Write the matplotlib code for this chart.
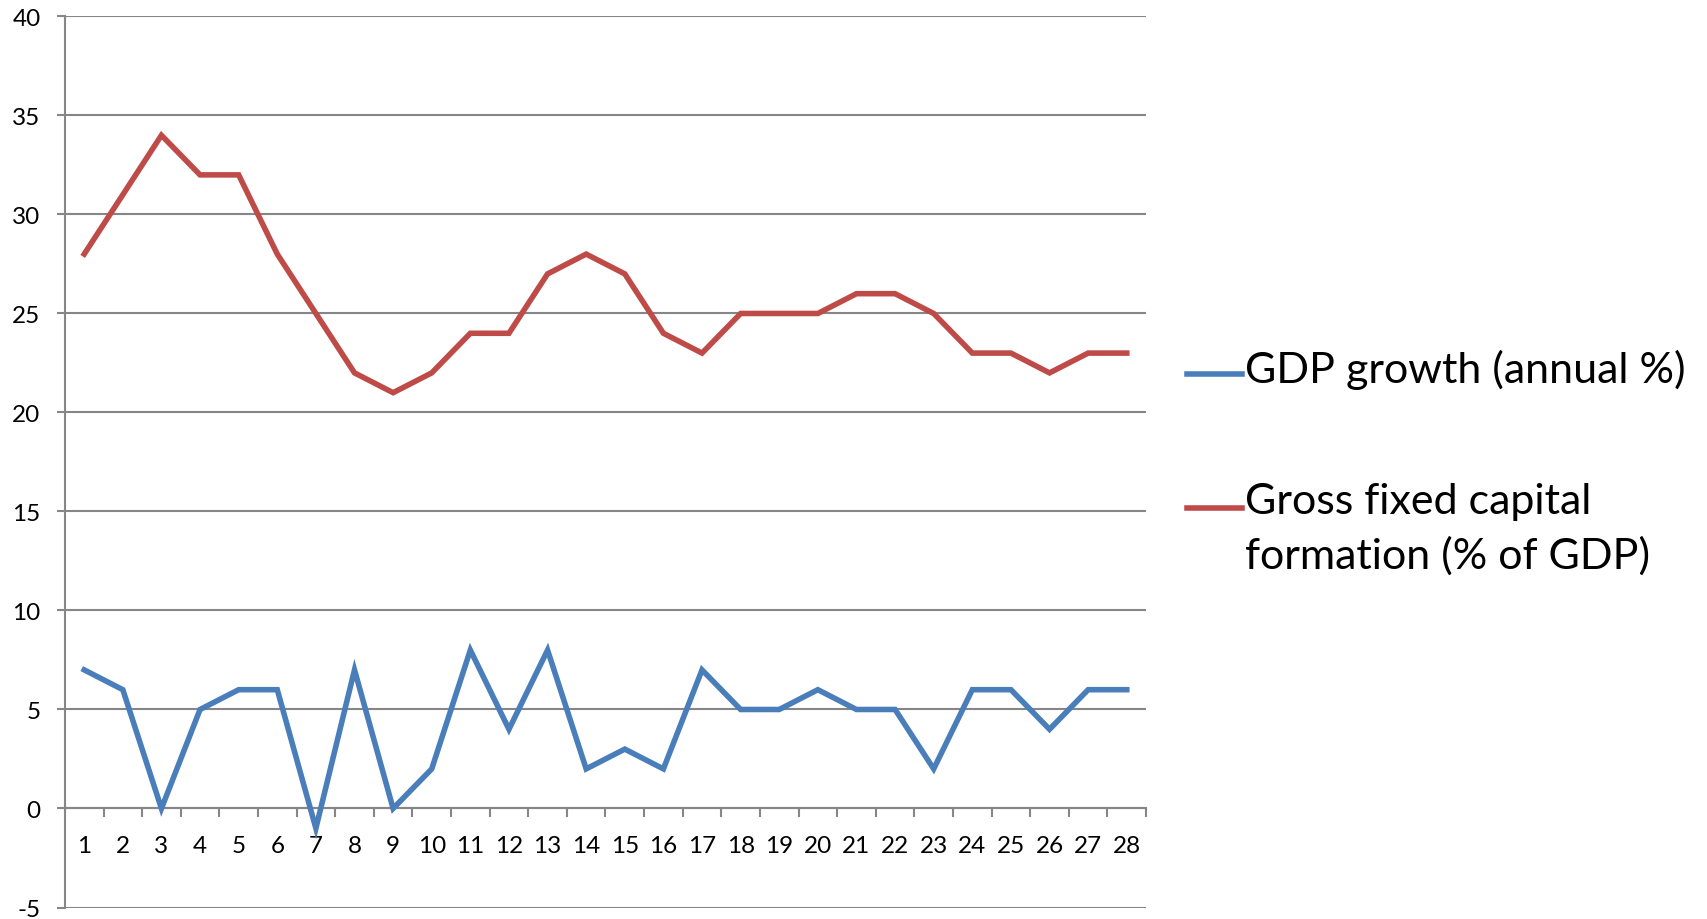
import numpy as np
import matplotlib
matplotlib.use("Agg")
import matplotlib.pyplot as plt
from matplotlib.lines import Line2D

# Data
periods = list(range(1, 29))
gdp_growth = [7, 6, 0, 5, 6, 6, -1, 7, 0, 2, 8, 4, 8, 2, 3, 2, 7, 5, 5, 6, 5, 5, 2, 6, 6, 4, 6, 6]
gfcf = [28, 31, 34, 32, 32, 28, 25, 22, 21, 22, 24, 24, 27, 28, 27, 24, 23, 25, 25, 25, 26, 26, 25, 23, 23, 22, 23, 23]
series_labels = ["GDP growth (annual %)", "Gross fixed capital\nformation (% of GDP)"]
series_colors = ["#4A7EBB", "#BE4B48"]
y_ticks = list(range(-5, 45, 5))

plt.rcParams['font.family'] = ['Lato', 'DejaVu Sans']
grey = "#868686"

fig = plt.figure(figsize=(17.08, 9.2), dpi=100)
ax = fig.add_axes([0.038, 0.0125, 0.633, 0.9685])

ax.plot(periods, gdp_growth, color=series_colors[0], lw=4, solid_joinstyle="miter", zorder=3)
ax.plot(periods, gfcf, color=series_colors[1], lw=4, solid_joinstyle="miter", zorder=3)

ax.set_xlim(0.5, 28.5)
ax.set_ylim(-5, 40)
ax.set_yticks(y_ticks)
ax.set_yticklabels([str(v) for v in y_ticks])
ax.yaxis.grid(True, color=grey, lw=1.5)
ax.set_axisbelow(True)

# x axis sits at zero, tick marks between categories
ax.spines["bottom"].set_position(("data", 0))
for s in ["top", "right"]:
    ax.spines[s].set_visible(False)
ax.spines["bottom"].set_color(grey)
ax.spines["bottom"].set_linewidth(1.5)
ax.spines["left"].set_color(grey)
ax.spines["left"].set_linewidth(1.5)

ax.set_xticks(periods)
ax.set_xticklabels([str(p) for p in periods])
ax.set_xticks(np.arange(1.5, 29, 1), minor=True)
ax.tick_params(axis="x", which="major", length=0, pad=19, labelsize=17.5)
ax.tick_params(axis="x", which="minor", length=6.5, width=1.5, color=grey, direction="out")
ax.tick_params(axis="y", length=5.5, width=1.5, color=grey, pad=12, labelsize=17.5)

# legend drawn at the right
ypos = [0.592, 0.4465]
for lab, col, y in zip(series_labels, series_colors, ypos):
    fig.add_artist(Line2D([0.695, 0.727], [y, y], color=col, lw=4, transform=fig.transFigure))
    fig.text(0.729, y + 0.028, lab, fontsize=31, va="top", ha="left", linespacing=1.45)

plt.savefig("out.png", dpi=100)
